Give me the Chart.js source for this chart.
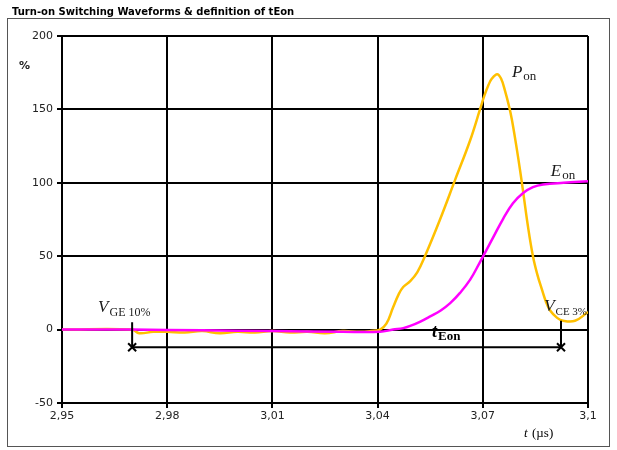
<!DOCTYPE html>
<html>
<head>
<meta charset="utf-8">
<script src="https://cdn.jsdelivr.net/npm/chart.js@4/dist/chart.umd.min.js"></script>
<style>
  html, body { margin: 0; padding: 0; background: #fff; }
</style>
</head>
<body>
<canvas id="chart" width="617" height="450"></canvas>
<script>
// values (t in µs, power / energy in %)
var ponTime  = [2.95, 2.97, 2.972, 2.976, 2.98, 2.985, 2.99, 2.995, 3.0, 3.005, 3.01, 3.015, 3.02, 3.025, 3.03, 3.035, 3.038, 3.0407,
                3.0425, 3.0444, 3.046, 3.0473, 3.0493, 3.0513, 3.0535, 3.0578, 3.0621, 3.0664, 3.0692, 3.0704, 3.0715, 3.0726, 3.0741,
                3.0752, 3.0763, 3.0775, 3.0783, 3.0795, 3.0806, 3.0815, 3.0829, 3.0843, 3.0855, 3.0869, 3.088, 3.0892, 3.0912,
                3.0929, 3.0963, 3.1];
var ponValue = [0, 0, -2.5, -1.5, -1.5, -2, -1, -2.5, -1.5, -2, -1, -2, -1.5, -2.5, -1, -1.5, -1, 0,
                4, 15, 24, 29, 33, 39, 50, 75, 102, 129, 150, 159, 166, 171, 174,
                171, 163, 152, 143, 126, 109, 94, 70, 50, 38, 27, 19, 13, 8,
                6, 6, 12];

var eonTime  = [2.95, 2.97, 2.99, 3.01, 3.03, 3.0407, 3.0444, 3.0473, 3.0493, 3.0522, 3.055, 3.058, 3.0607, 3.0635, 3.0664,
                3.0692, 3.073, 3.0758, 3.0786, 3.0815, 3.0843, 3.0872, 3.093, 3.1];
var eonValue = [0, 0, -0.5, -1, -1.5, -1.5, 0, 1, 2.5, 5.5, 9, 13, 18, 25, 34,
                46, 63, 75.5, 86, 93, 97, 98.8, 100, 101];

var xTickLabels = ['2,95', '2,98', '3,01', '3,04', '3,07', '3,1'];
var yTickValues = [-50, 0, 50, 100, 150, 200];

// t at the V_GE 10% and V_CE 3% points, and the level of the tEon arrow
var markerTimes = [2.970, 3.0923];
var markerTops  = [5, 6];
var markerLevel = -12;

function toPoints(xs, ys) {
  var pts = [];
  for (var i = 0; i < xs.length; i++) pts.push({x: xs[i], y: ys[i]});
  return pts;
}

function subLabel(ctx, main, sub, x, y, mainFont, subFont, drop) {
  ctx.font = mainFont;
  ctx.fillText(main, x, y);
  var w = ctx.measureText(main).width;
  ctx.font = subFont;
  ctx.fillText(sub, x + w + 1, y + drop);
}

var extras = {
  id: 'extras',
  beforeDraw: function (chart) {
    var ctx = chart.ctx;
    ctx.save();
    ctx.fillStyle = '#fff';
    ctx.fillRect(0, 0, chart.width, chart.height);
    ctx.strokeStyle = '#555';
    ctx.lineWidth = 1;
    ctx.strokeRect(7.5, 18.5, 602, 428);
    ctx.restore();
  },
  afterDraw: function (chart) {
    var ctx = chart.ctx;
    var xs = chart.scales.x, ys = chart.scales.y;
    var px = function (v) { return xs.getPixelForValue(v); };
    var py = function (v) { return ys.getPixelForValue(v); };
    ctx.save();
    ctx.fillStyle = '#000';
    ctx.textBaseline = 'alphabetic';

    // title
    ctx.font = 'bold 10px "DejaVu Sans"';
    ctx.fillText('Turn-on Switching Waveforms & definition of tEon', 12, 15, 287);

    // axis units
    ctx.font = 'bold 11px "DejaVu Sans"';
    ctx.fillStyle = '#222';
    ctx.fillText('%', 19, 69);
    ctx.fillStyle = '#000';
    ctx.font = 'italic 13px "Liberation Serif"';
    ctx.fillText('t', 524, 437);
    ctx.font = '13px "Liberation Serif"';
    ctx.fillText('(\u00b5s)', 532, 437);

    // tEon arrow with end marks
    ctx.strokeStyle = '#000';
    ctx.lineWidth = 2;
    var x0 = px(markerTimes[0]), x1 = px(markerTimes[1]), yl = py(markerLevel);
    ctx.beginPath();
    ctx.moveTo(x0, yl); ctx.lineTo(x1, yl);
    for (var i = 0; i < markerTimes.length; i++) {
      var xm = px(markerTimes[i]);
      ctx.moveTo(xm, py(markerTops[i])); ctx.lineTo(xm, yl);
    }
    ctx.stroke();
    [x0, x1].forEach(function (xm) {
      ctx.beginPath();
      ctx.moveTo(xm - 4, yl - 4); ctx.lineTo(xm + 4, yl + 4);
      ctx.moveTo(xm - 4, yl + 4); ctx.lineTo(xm + 4, yl - 4);
      ctx.stroke();
    });

    // curve and point labels
    ctx.fillStyle = '#1a1a1a';
    subLabel(ctx, 'V', 'GE 10%', px(2.9603), py(12), 'italic 17px "Liberation Serif"', '12px "Liberation Serif"', 4);
    subLabel(ctx, 'V', 'CE 3%', px(3.0875), py(13), 'italic 17px "Liberation Serif"', '11px "Liberation Serif"', 4);
    subLabel(ctx, 'P', 'on', px(3.0783), py(172), 'italic 17px "Liberation Serif"', '13px "Liberation Serif"', 3);
    subLabel(ctx, 'E', 'on', px(3.0894), py(104.5), 'italic 17px "Liberation Serif"', '13px "Liberation Serif"', 3);
    ctx.fillStyle = '#000';
    subLabel(ctx, 't', 'Eon', px(3.0555), py(-5), 'bold italic 18px "Liberation Serif"', 'bold 13px "Liberation Serif"', 3);
    ctx.restore();
  }
};

new Chart(document.getElementById('chart'), {
  type: 'line',
  data: {
    datasets: [
      {
        label: 'Eon',
        data: toPoints(eonTime, eonValue),
        borderColor: '#ff00ff',
        borderWidth: 2.5,
        pointRadius: 0,
        tension: 0.4,
        order: 0
      },
      {
        label: 'Pon',
        data: toPoints(ponTime, ponValue),
        borderColor: '#ffc000',
        borderWidth: 2.5,
        pointRadius: 0,
        tension: 0.4,
        order: 1
      }
    ]
  },
  options: {
    responsive: false,
    animation: false,
    devicePixelRatio: 1,
    layout: { padding: { left: 0, right: 29, top: 36, bottom: 0 } },
    plugins: { legend: { display: false }, tooltip: { enabled: false } },
    scales: {
      x: {
        type: 'linear',
        min: 2.95,
        max: 3.1,
        afterFit: function (s) { s.height = 47; },
        afterBuildTicks: function (s) {
          s.ticks = xTickLabels.map(function (l, i) { return {value: 2.95 + i * 0.03}; });
        },
        ticks: {
          autoSkip: false,
          maxRotation: 0,
          padding: 2,
          color: '#222',
          font: { family: '"DejaVu Sans"', size: 11 },
          callback: function (v, i) { return xTickLabels[i]; }
        },
        grid: { color: '#000', lineWidth: 2, tickLength: 5, tickColor: '#000' },
        border: { color: '#000', width: 2 }
      },
      y: {
        min: -50,
        max: 200,
        afterFit: function (s) { s.width = 62; },
        afterBuildTicks: function (s) {
          s.ticks = yTickValues.map(function (v) { return {value: v}; });
        },
        ticks: {
          padding: 4,
          color: '#222',
          font: { family: '"DejaVu Sans"', size: 11 }
        },
        grid: { color: '#000', lineWidth: 2, tickLength: 5, tickColor: '#000' },
        border: { color: '#000', width: 2 }
      }
    }
  },
  plugins: [extras]
});
</script>
</body>
</html>
